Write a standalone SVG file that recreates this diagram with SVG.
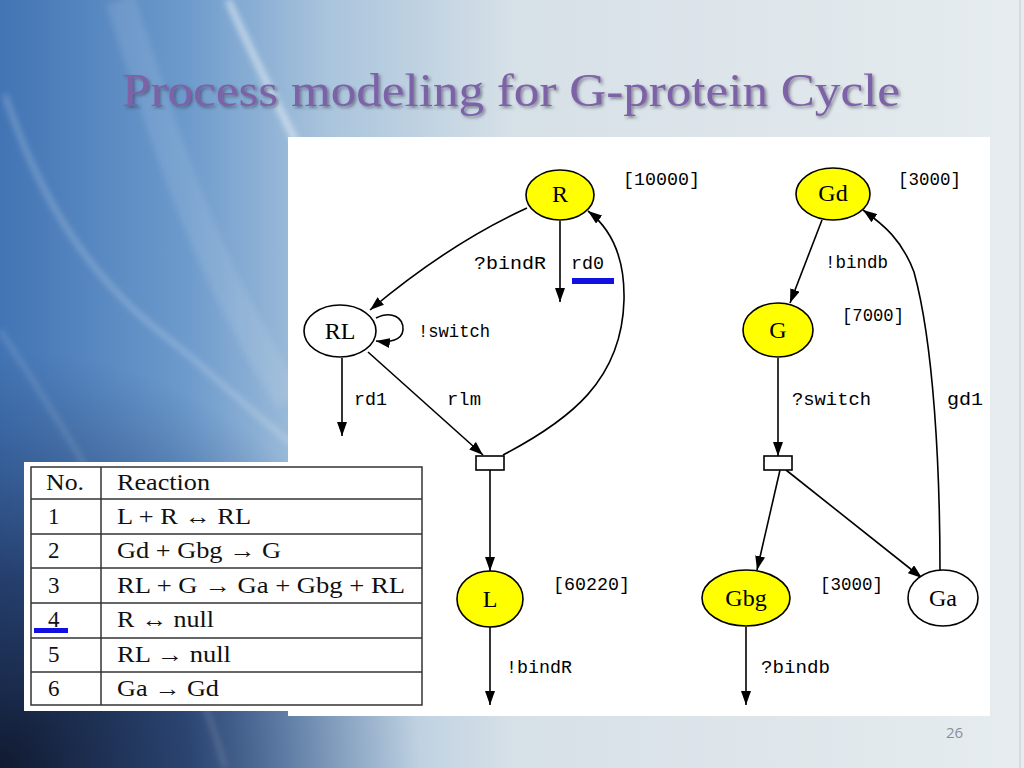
<svg xmlns="http://www.w3.org/2000/svg" width="1024" height="768" viewBox="0 0 1024 768">
<defs>
  <linearGradient id="bg" x1="0" y1="0" x2="1" y2="0">
    <stop offset="0" stop-color="#4274b4"/>
    <stop offset="0.18" stop-color="#6c9acc"/>
    <stop offset="0.32" stop-color="#a9c4dc"/>
    <stop offset="0.5" stop-color="#d6e0e7"/>
    <stop offset="1" stop-color="#e6ecef"/>
  </linearGradient>
  <radialGradient id="dark" cx="0" cy="768" r="420" gradientUnits="userSpaceOnUse">
    <stop offset="0" stop-color="#111a30" stop-opacity="1"/>
    <stop offset="0.45" stop-color="#1f3560" stop-opacity="0.85"/>
    <stop offset="1" stop-color="#2a4a80" stop-opacity="0"/>
  </radialGradient>
  <filter id="blur" x="-20%" y="-20%" width="140%" height="140%">
    <feGaussianBlur stdDeviation="3"/>
  </filter>
  <filter id="shadow" x="-5%" y="-20%" width="110%" height="150%">
    <feDropShadow dx="2" dy="2" stdDeviation="1.5" flood-color="#303040" flood-opacity="0.5"/>
  </filter>
  <marker id="arr" markerWidth="14" markerHeight="10" refX="14" refY="5" orient="auto" markerUnits="userSpaceOnUse">
    <path d="M0,0 L14,5 L0,10 z" fill="#000"/>
  </marker>
  <style>
    .edge { fill: none; stroke: #000; stroke-width: 1.6; marker-end: url(#arr); }
    .yel { fill: #ffff00; stroke: #000; stroke-width: 1.6; }
    .wht { fill: #ffffff; stroke: #000; stroke-width: 1.6; }
    .nl { font-family: "Liberation Serif", "Times New Roman", serif; font-size: 24px; fill: #000; text-anchor: middle; }
    .el { font-family: "Liberation Mono", "Courier New", monospace; font-size: 18px; fill: #000; }
    .tt { font-family: "Liberation Serif", "Times New Roman", serif; font-size: 23px; fill: #111; }
    .tl { stroke: #333; stroke-width: 1.5; fill: none; }
  </style>
</defs>

<!-- slide background -->
<rect x="0" y="0" width="1024" height="768" fill="url(#bg)"/>
<rect x="0" y="0" width="1024" height="768" fill="url(#dark)"/>
<g filter="url(#blur)" fill="none" stroke="#ffffff">
  <path d="M228,0 C250,50 275,100 300,150" stroke-width="6" stroke-opacity="0.55"/>
  <path d="M5,95 C40,200 90,280 170,340 C220,380 260,420 300,450" stroke-width="4" stroke-opacity="0.3"/>
  <path d="M0,330 C60,420 120,520 180,640 C200,690 215,730 225,768" stroke-width="4" stroke-opacity="0.18"/>
  <path d="M120,0 C160,120 200,260 290,400" stroke-width="30" stroke-opacity="0.1"/>
</g>
<line x1="1020" y1="0" x2="1020" y2="768" stroke="#c4c9cd" stroke-width="1"/>

<!-- title -->
<text x="122" y="106" font-family="Liberation Serif, Times New Roman, serif" font-size="46" fill="#7d62a8" textLength="778" lengthAdjust="spacingAndGlyphs" filter="url(#shadow)">Process modeling for G-protein Cycle</text>

<!-- diagram panel -->
<rect x="288" y="137" width="702" height="579" fill="#ffffff"/>

<!-- connectors -->
<g id="connectors">
  <path class="edge" d="M527,208 Q450,243 370,310"/>
  <path class="edge" d="M560,221 L560,302"/>
  <path class="edge" d="M376,318 C392,310 404,318 403,330 C402,340 390,343 376,341"/>
  <path class="edge" d="M342,358 L342,436"/>
  <path class="edge" d="M368,352 L483,455"/>
  <path class="edge" d="M503,455 C570,420 622,380 624,300 C625,255 610,228 588,211"/>
  <path class="edge" d="M490,470 L490,571"/>
  <path class="edge" d="M490,627 L490,705"/>
  <path class="edge" d="M822,220 L790,303"/>
  <path class="edge" d="M778,358 L778,456"/>
  <path class="edge" d="M780,470 L757,570"/>
  <path class="edge" d="M786,470 L922,578"/>
  <path class="edge" d="M940,571 C940,470 934,345 914,272 C902,240 884,225 863,210"/>
  <path class="edge" d="M746,627 L746,705"/>
</g>

<!-- edge labels -->
<g id="edge-labels">
  <text class="el" x="474" y="269" textLength="72" lengthAdjust="spacingAndGlyphs">?bindR</text>
  <text class="el" x="571" y="269" textLength="33" lengthAdjust="spacingAndGlyphs">rd0</text>
  <rect x="572" y="278" width="42" height="6" fill="#1010e0"/>
  <text class="el" x="418" y="337" textLength="72" lengthAdjust="spacingAndGlyphs">!switch</text>
  <text class="el" x="354" y="405" textLength="33" lengthAdjust="spacingAndGlyphs">rd1</text>
  <text class="el" x="447" y="405" textLength="34" lengthAdjust="spacingAndGlyphs">rlm</text>
  <text class="el" x="825" y="268" textLength="63" lengthAdjust="spacingAndGlyphs">!bindb</text>
  <text class="el" x="792" y="405" textLength="79" lengthAdjust="spacingAndGlyphs">?switch</text>
  <text class="el" x="947" y="405" textLength="36" lengthAdjust="spacingAndGlyphs">gd1</text>
  <text class="el" x="506" y="673" textLength="66" lengthAdjust="spacingAndGlyphs">!bindR</text>
  <text class="el" x="761" y="673" textLength="69" lengthAdjust="spacingAndGlyphs">?bindb</text>
  <text class="el" x="623" y="185" textLength="77" lengthAdjust="spacingAndGlyphs">[10000]</text>
  <text class="el" x="898" y="185" textLength="63" lengthAdjust="spacingAndGlyphs">[3000]</text>
  <text class="el" x="842" y="321" textLength="62" lengthAdjust="spacingAndGlyphs">[7000]</text>
  <text class="el" x="553" y="590" textLength="77" lengthAdjust="spacingAndGlyphs">[60220]</text>
  <text class="el" x="820" y="590" textLength="63" lengthAdjust="spacingAndGlyphs">[3000]</text>
</g>

<!-- nodes -->
<g id="node-R"><ellipse class="yel" cx="560" cy="195" rx="34" ry="25"/><text class="nl" x="560" y="202">R</text></g>
<g id="node-RL"><ellipse class="wht" cx="340" cy="331" rx="36" ry="26"/><text class="nl" x="340" y="339">RL</text></g>
<g id="node-T1"><rect class="wht" x="476" y="456" width="28" height="14"/></g>
<g id="node-L"><ellipse class="yel" cx="490" cy="599" rx="33" ry="28"/><text class="nl" x="490" y="607">L</text></g>
<g id="node-Gd"><ellipse class="yel" cx="833" cy="194" rx="37" ry="26"/><text class="nl" x="833" y="201">Gd</text></g>
<g id="node-G"><ellipse class="yel" cx="778" cy="330" rx="35" ry="27"/><text class="nl" x="778" y="338">G</text></g>
<g id="node-T2"><rect class="wht" x="764" y="456" width="28" height="14"/></g>
<g id="node-Gbg"><ellipse class="yel" cx="746" cy="598" rx="44" ry="28"/><text class="nl" x="746" y="606">Gbg</text></g>
<g id="node-Ga"><ellipse class="wht" cx="943" cy="598" rx="35" ry="28"/><text class="nl" x="943" y="606">Ga</text></g>

<!-- reaction table -->
<g id="table">
  <rect x="24" y="462" width="402" height="249" fill="#ffffff"/>
  <rect class="tl" x="31" y="467" width="391" height="238"/>
  <line class="tl" x1="101" y1="467" x2="101" y2="705"/>
  <line class="tl" x1="31" y1="499" x2="422" y2="499"/>
  <line class="tl" x1="31" y1="534" x2="422" y2="534"/>
  <line class="tl" x1="31" y1="568" x2="422" y2="568"/>
  <line class="tl" x1="31" y1="603" x2="422" y2="603"/>
  <line class="tl" x1="31" y1="638" x2="422" y2="638"/>
  <line class="tl" x1="31" y1="672" x2="422" y2="672"/>
  <text class="tt" x="46" y="490" textLength="38" lengthAdjust="spacingAndGlyphs">No.</text>
  <text class="tt" x="117" y="490" textLength="93" lengthAdjust="spacingAndGlyphs">Reaction</text>
  <text class="tt" x="48" y="524">1</text>
  <text class="tt" x="117" y="524" textLength="134" lengthAdjust="spacingAndGlyphs">L + R ↔ RL</text>
  <text class="tt" x="48" y="558">2</text>
  <text class="tt" x="117" y="558" textLength="164" lengthAdjust="spacingAndGlyphs">Gd + Gbg → G</text>
  <text class="tt" x="48" y="593">3</text>
  <text class="tt" x="117" y="593" textLength="288" lengthAdjust="spacingAndGlyphs">RL + G → Ga + Gbg + RL</text>
  <text class="tt" x="48" y="627">4</text>
  <rect x="34" y="628" width="34" height="5" fill="#1010e0"/>
  <text class="tt" x="117" y="627" textLength="97" lengthAdjust="spacingAndGlyphs">R ↔ null</text>
  <text class="tt" x="48" y="662">5</text>
  <text class="tt" x="117" y="662" textLength="114" lengthAdjust="spacingAndGlyphs">RL → null</text>
  <text class="tt" x="48" y="696">6</text>
  <text class="tt" x="117" y="696" textLength="102" lengthAdjust="spacingAndGlyphs">Ga → Gd</text>
</g>

<!-- page number -->
<text x="946" y="738" font-family="Open Sans, Liberation Sans, sans-serif" font-size="15" fill="#8a8f94">26</text>
</svg>
